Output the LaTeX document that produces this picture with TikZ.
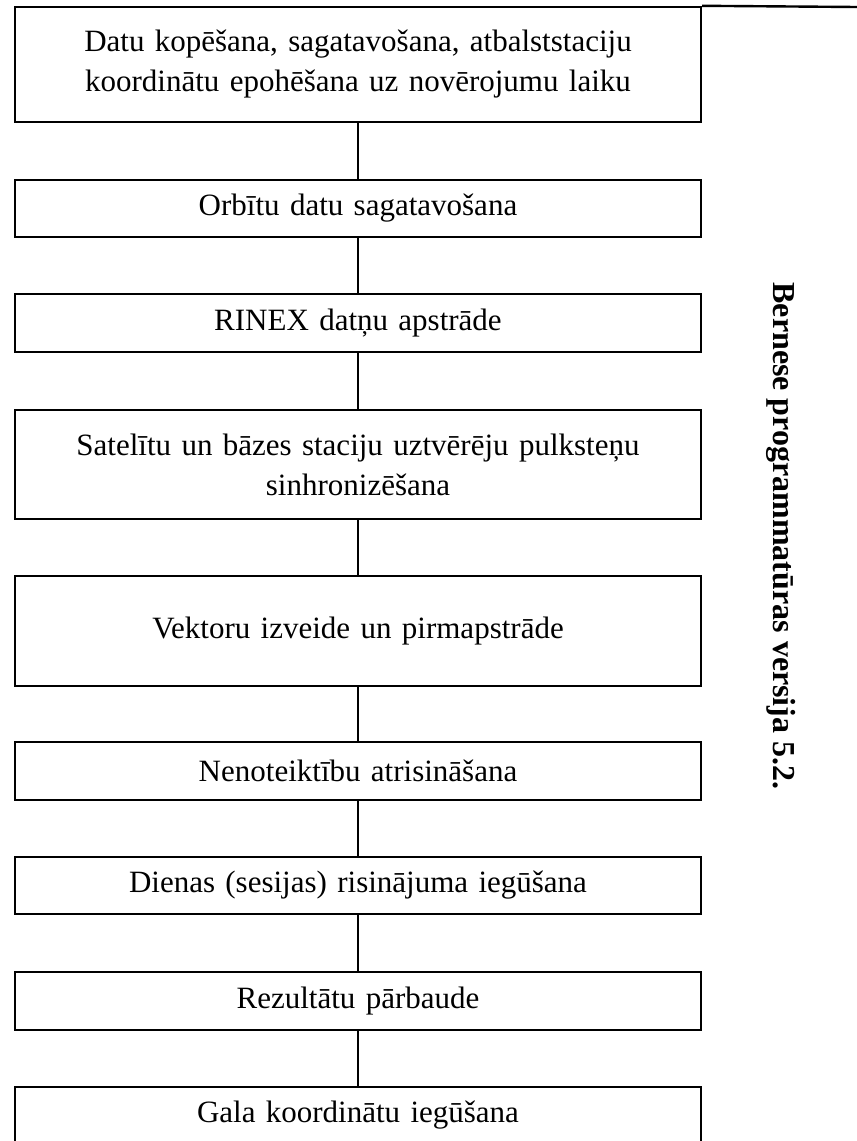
\documentclass[tikz,border=0pt]{standalone}
\usepackage{fontspec}
\setmainfont{Liberation Serif}
\newfontfamily\boxfont[WordSpace=0.8]{Liberation Serif}
\usepackage{tikz}
\usetikzlibrary{positioning}

\begin{document}
\begin{tikzpicture}[x=1pt,y=-1pt,line width=2.4pt,
   stage/.style={draw=black,minimum width=686pt,inner sep=0pt,text width=670pt,
                 align=center,font=\boxfont\fontsize{31}{40}\selectfont}]
  \useasboundingbox (0,0) rectangle (857,1141);
  \node[stage,minimum height=115pt] (s1) at (358,64.5)
    {Datu kopēšana, sagatavošana, atbalststaciju\\koordinātu epohēšana uz novērojumu laiku};
  \node[stage,minimum height=57pt] (s2) at (358,208.5) {Orbītu datu sagatavošana};
  \node[stage,minimum height=58pt] (s3) at (358,323) {RINEX datņu apstrāde};
  \node[stage,minimum height=109pt] (s4) at (358,464.5)
    {Satelītu un bāzes staciju uztvērēju pulksteņu\\sinhronizēšana};
  \node[stage,minimum height=110pt] (s5) at (358,631) {Vektoru izveide un pirmapstrāde};
  \node[stage,minimum height=58pt] (s6) at (358,771) {Nenoteiktību atrisināšana};
  \node[stage,minimum height=57pt] (s7) at (358,885.5) {Dienas (sesijas) risinājuma iegūšana};
  \node[stage,minimum height=58pt] (s8) at (358,1001) {Rezultātu pārbaude};
  \node[stage,minimum height=57pt] (s9) at (358,1115.5) {Gala koordinātu iegūšana};
  % connectors
  \foreach \a/\b in {s1/s2,s2/s3,s3/s4,s4/s5,s5/s6,s6/s7,s7/s8,s8/s9}
    \draw (\a.south) -- (\b.north);
  % side bracket and label
  \coordinate (topend) at (857,7);
  \draw (s1.north east) -- (topend);
  \node[rotate=-90,font=\fontsize{32}{36}\selectfont\bfseries] (ver) at (781,536)
    {Bernese programmatūras versija 5.2.};
\end{tikzpicture}
\end{document}
